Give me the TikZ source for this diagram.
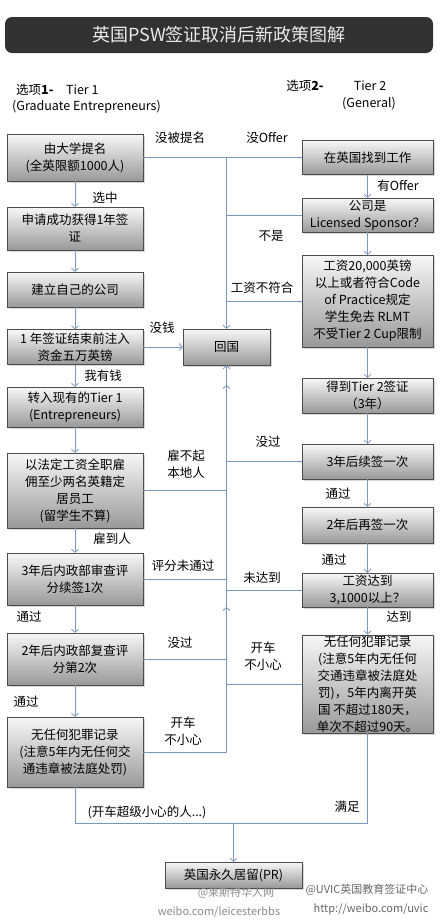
\documentclass[tikz,border=0pt]{standalone}
\usepackage{fontspec}
\setmainfont{Noto Sans CJK SC}
\usetikzlibrary{arrows.meta,shadows}
\definecolor{linkblue}{RGB}{122,152,190}
\definecolor{titlebar}{RGB}{50,50,50}

\begin{document}
\begin{tikzpicture}[x=1pt, y=-1pt,
  box/.style={rectangle, draw=black!70, top color=black!3, bottom color=black!40, drop shadow={shadow xshift=1.5pt, shadow yshift=-1.5pt, opacity=.3}, align=center, inner sep=1pt, font=\fontsize{12.5}{17}\selectfont},
  lbl/.style={align=center, inner sep=0pt, font=\fontsize{12.5}{17}\selectfont},
  wmark/.style={inner sep=0pt, text=black!45, font=\fontsize{11}{13}\selectfont},
  link/.style={draw=linkblue, line width=.8pt},
  arr/.style={link, -{Straight Barb[length=3pt, width=7pt]}}]
  \fill[white] (0,0) rectangle (440,921);
  \useasboundingbox (0,0) rectangle (440,921);

  \node[fill=titlebar, rounded corners=7pt, minimum width=428, minimum height=36, text=black!8, font=\fontsize{18}{20}\selectfont] (title) at (219,35) {英国PSW签证取消后新政策图解};
  \node[lbl, anchor=west] (opt1) at (16,90) {选项\textbf{1-}\quad Tier 1};
  \node[lbl, anchor=west] (opt1b) at (12,107) {(Graduate Entrepreneurs)};
  \node[lbl] (opt2) at (305,86) {选项\textbf{2-}};
  \node[lbl] (opt2a) at (370,86) {Tier 2};
  \node[lbl] (opt2b) at (369,104) {(General)};

  \node[box, minimum width=136, minimum height=47] (l1) at (75,157.5) {由大学提名\\(全英限额1000人)};
  \node[box, minimum width=136, minimum height=43] (l2) at (75,228.5) {申请成功获得1年签\\证};
  \node[box, minimum width=136, minimum height=35] (l3) at (75,289.5) {建立自己的公司};
  \node[box, minimum width=136, minimum height=35] (l4) at (75,347) {1 年签证结束前注入\\资金五万英镑};
  \node[box, minimum width=136, minimum height=40] (l5) at (75,407) {转入现有的Tier 1\\(Entrepreneurs)};
  \node[box, minimum width=136, minimum height=75] (l6) at (75,490.5) {以法定工资全职雇\\佣至少两名英籍定\\居员工\\(留学生不算)};
  \node[box, minimum width=136, minimum height=52] (l7) at (75,579) {3年后内政部审查评\\分续签1次};
  \node[box, minimum width=136, minimum height=52] (l8) at (75,659) {2年后内政部复查评\\分第2次};
  \node[box, minimum width=136, minimum height=70] (l9) at (75,752) {无任何犯罪记录\\(注意5年内无任何交\\通违章被法庭处罚)};

  \node[box, minimum width=131, minimum height=34] (r1) at (367.5,157.5) {在英国找到工作};
  \node[box, minimum width=131, minimum height=34] (r2) at (367.5,215) {公司是\\Licensed Sponsor？};
  \node[box, minimum width=131, minimum height=92] (r3) at (367.5,301) {工资20,000英镑\\以上或者符合Code\\of Practice规定\\学生免去 RLMT\\不受Tier 2 Cup限制};
  \node[box, minimum width=131, minimum height=35] (r4) at (367.5,395.5) {得到Tier 2签证\\（3年）};
  \node[box, minimum width=131, minimum height=35] (r5) at (367.5,461.5) {3年后续签一次};
  \node[box, minimum width=131, minimum height=36] (r6) at (367.5,525) {2年后再签一次};
  \node[box, minimum width=131, minimum height=34] (r7) at (367.5,590) {工资达到\\3,1000以上？};
  \node[box, minimum width=131, minimum height=98] (r8) at (367.5,684) {无任何犯罪记录\\(注意5年内无任何\\交通违章被法庭处\\罚)，5年内离开英\\国 不超过180天，\\单次不超过90天。};

  \node[box, minimum width=87, minimum height=36] (home) at (226.5,347) {回国};
  \node[box, minimum width=137, minimum height=26] (pr) at (233.5,875) {英国永久居留(PR)};

  \coordinate (m1) at (226.5,385);
  \coordinate (m2) at (226.5,607);
  \coordinate (join) at (233.5,823);

  \draw[arr] (l1) -- (l2); \draw[arr] (l2) -- (l3); \draw[arr] (l3) -- (l4); \draw[arr] (l4) -- (l5);
  \draw[arr] (l5) -- (l6); \draw[arr] (l6) -- (l7); \draw[arr] (l7) -- (l8); \draw[arr] (l8) -- (l9);
  \draw[arr] (r1) -- (r2); \draw[arr] (r2) -- (r3); \draw[arr] (r3) -- (r4); \draw[arr] (r4) -- (r5);
  \draw[arr] (r5) -- (r6); \draw[arr] (r6) -- (r7); \draw[arr] (r7) -- (r8);

  \draw[link] (l1) -- (r1);
  \draw[arr] (home |- l1) -- (home);
  \draw[link] (r2) -- (home |- r2); \draw[link] (r3) -- (home |- r3);
  \draw[arr] (l4) -- (home);
  \draw[link] (l6) -- (home |- l6); \draw[link] (l7) -- (home |- l7);
  \draw[link] (l8) -- (home |- l8); \draw[link] (l9) -- (home |- l9);
  \draw[link] (r5) -- (home |- r5); \draw[link] (r7) -- (home |- r7);
  \draw[link] (r8) -- (home |- r8);
  \draw[arr] (home |- l9) -- (m2); \draw[arr] (m2) -- (m1); \draw[arr] (m1) -- (home);
  \draw[link] (l9) |- (join); \draw[link] (r8) |- (join);
  \draw[arr] (join) -- (pr);

  \node[lbl] (t1) at (180,138) {没被提名};
  \node[lbl] (t2) at (267,138) {没Offer};
  \node[lbl] (t3) at (105,198) {选中};
  \node[lbl] (t4) at (398,186) {有Offer};
  \node[lbl] (t5) at (271,236) {不是};
  \node[lbl] (t6) at (262,288) {工资不符合};
  \node[lbl] (t7) at (162,328) {没钱};
  \node[lbl] (t8) at (103,376) {我有钱};
  \node[lbl] (t9) at (268,442) {没过};
  \node[lbl] (t10) at (186,464) {雇不起\\本地人};
  \node[lbl] (t11) at (338,494) {通过};
  \node[lbl] (t12) at (112,539) {雇到人};
  \node[lbl] (t13) at (334,560) {通过};
  \node[lbl] (t14) at (183,566) {评分未通过};
  \node[lbl] (t15) at (262,578) {未达到};
  \node[lbl] (t16) at (29,617) {通过};
  \node[lbl] (t17) at (399,617) {达到};
  \node[lbl] (t18) at (180,643) {没过};
  \node[lbl] (t19) at (263,656) {开车\\不小心};
  \node[lbl] (t20) at (26,702) {通过};
  \node[lbl] (t21) at (183,731) {开车\\不小心};
  \node[lbl] (t22) at (347,807) {满足};
  \node[lbl] (t23) at (147,812) {(开车超级小心的人...)};

  \node[wmark] (w1) at (236,893) {@莱斯特华人网};
  \node[wmark] (w2) at (219,912) {weibo.com/leicesterbbs};
  \node[wmark, text=black!60] (w3) at (367,890) {@UVIC英国教育签证中心};
  \node[wmark, text=black!60] (w4) at (371,909) {http://weibo.com/uvic};
\end{tikzpicture}
\end{document}
